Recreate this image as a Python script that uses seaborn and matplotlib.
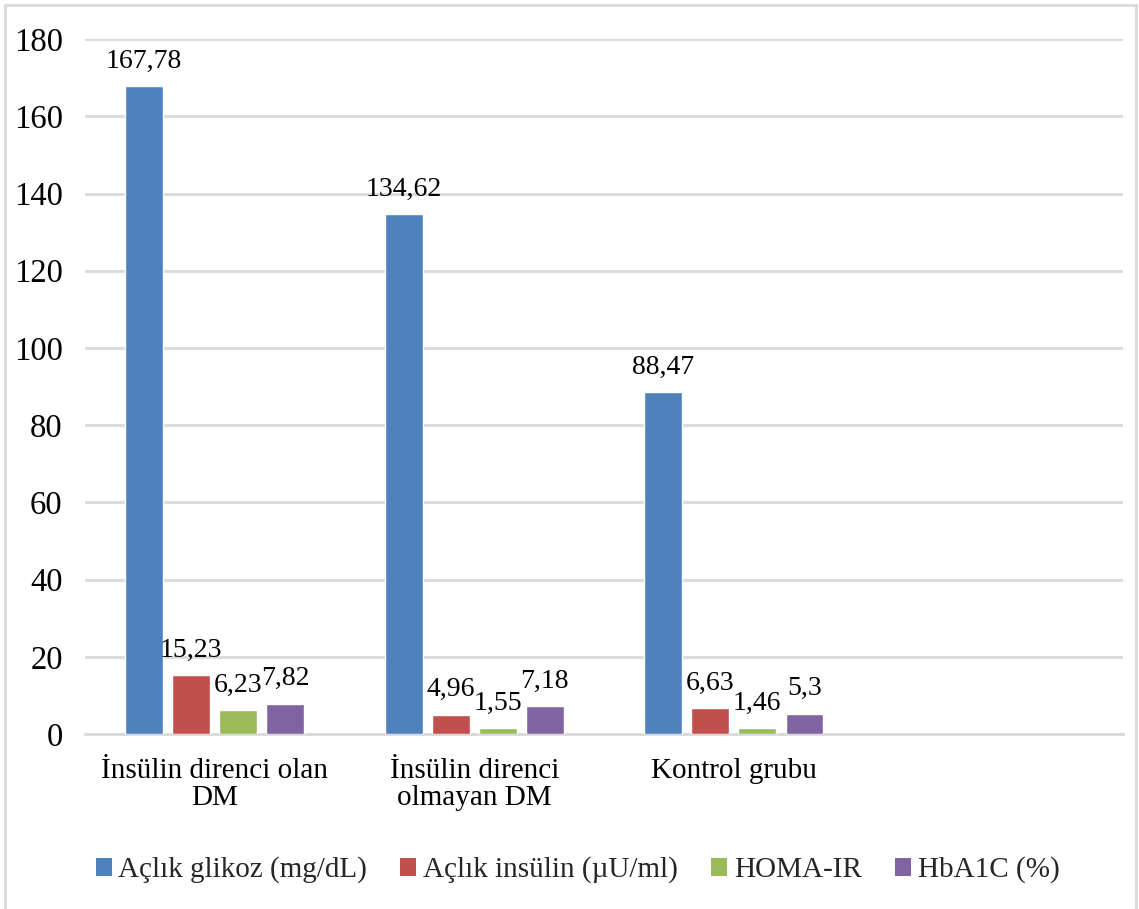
import matplotlib
matplotlib.use("Agg")
import matplotlib.pyplot as plt
from matplotlib.patches import Patch, Rectangle
import seaborn as sns
import pandas as pd
import numpy as np

# Groups (the last slot is left empty on the axis)
groups = ["İnsülin direnci olan\nDM", "İnsülin direnci\nolmayan DM", "Kontrol grubu"]
slots = groups + [""]

series = ["Açlık glikoz (mg/dL)", "Açlık insülin (µU/ml)", "HOMA-IR", "HbA1C (%)"]
aclik_glikoz = [167.78, 134.62, 88.47]
aclik_insulin = [15.23, 4.96, 6.63]
homa_ir = [6.23, 1.55, 1.46]
hba1c = [7.82, 7.18, 5.3]

colors = ["#4F81BD", "#C0504D", "#9BBB59", "#8064A2"]

values = [aclik_glikoz, aclik_insulin, homa_ir, hba1c]
rows = []
for s, vals in zip(series, values):
    for g, v in zip(groups, vals):
        rows.append({"grup": g, "seri": s, "deger": v})
df = pd.DataFrame(rows)

sns.set_style("white")
plt.rcParams["font.family"] = ["Liberation Serif", "DejaVu Serif"]
FS_Y = 23.5
FS_X = 21
FS_LBL = 20
FS_LEG = 21

fig = plt.figure(figsize=(11.39, 9.09), dpi=100)
ax = fig.add_axes([0.0746, 0.1925, 0.9114, 0.7645])

sns.barplot(data=df, x="grup", y="deger", hue="seri", order=slots,
            hue_order=series, palette=colors, width=0.725, gap=0.2,
            saturation=1, errorbar=None, ax=ax, legend=False, zorder=3)

ax.set_ylim(0, 180)
ax.set_yticks(np.arange(0, 181, 20))
ax.set_xlim(-0.5, len(slots) - 0.5)
ax.yaxis.grid(True, color="#d9d9d9", linewidth=2, zorder=0)
ax.set_axisbelow(True)
for side in ["left", "right", "top"]:
    ax.spines[side].set_visible(False)
ax.spines["bottom"].set_color("#d9d9d9")
ax.spines["bottom"].set_linewidth(2)
ax.tick_params(axis="both", length=0, colors="black")
ax.tick_params(axis="y", pad=16, labelsize=FS_Y)
ax.tick_params(axis="x", pad=17, labelsize=FS_X)
for t in ax.get_xticklabels():
    t.set_linespacing(1.05)
ax.set_xlabel("")
ax.set_ylabel("")

def fmt(v):
    return f"{v:g}".replace(".", ",")

for cont, vals in zip(ax.containers, values):
    ax.bar_label(cont, labels=[fmt(v) for v in vals], padding=9,
                 fontsize=FS_LBL, color="black")

handles = [Patch(facecolor=c, edgecolor="none") for c in colors]
fig.legend(handles, series, loc="center", bbox_to_anchor=(0.507, 0.043),
           ncol=4, frameon=False, fontsize=FS_LEG, handlelength=0.55,
           handleheight=0.55, handletextpad=0.22, columnspacing=1.15)

# Outer chart frame
fig.patches.append(Rectangle((0.0045, -0.01), 0.9925, 1.005,
                             transform=fig.transFigure, fill=False,
                             edgecolor="#d9d9d9", linewidth=2))

fig.savefig("out.png", dpi=100)
